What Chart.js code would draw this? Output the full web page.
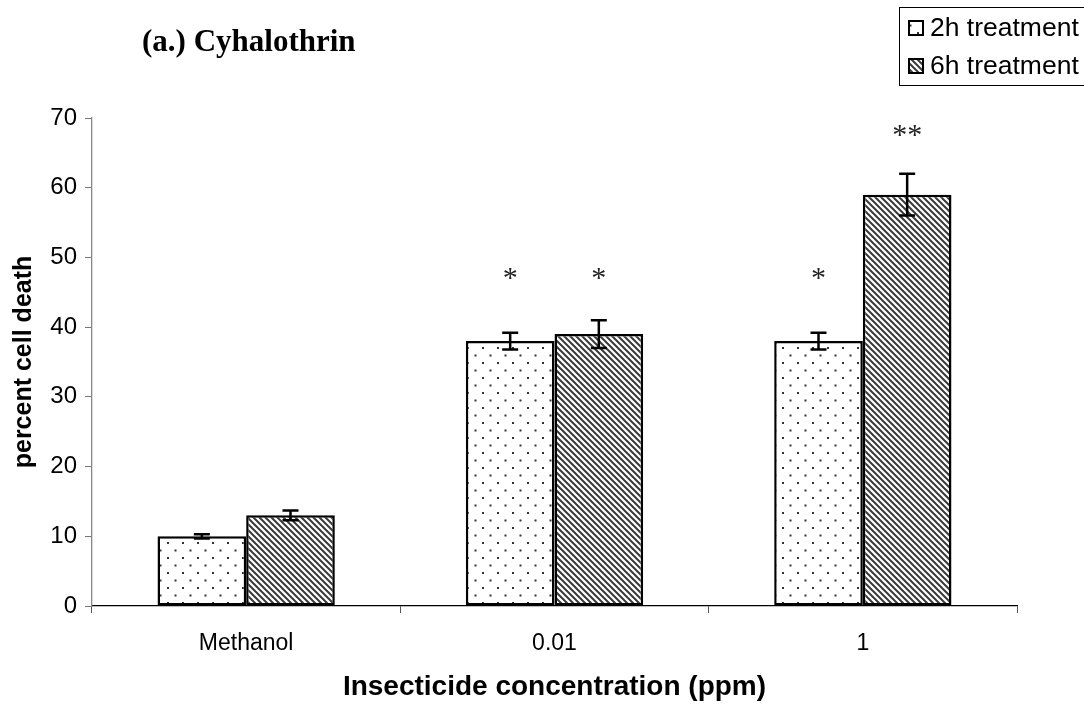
<!DOCTYPE html>
<html>
<head>
<meta charset="utf-8">
<script src="https://cdn.jsdelivr.net/npm/chart.js@4/dist/chart.umd.min.js"></script>
<style>
  html, body { margin: 0; padding: 0; background: #fff; }
  #wrap { position: relative; width: 1084px; height: 706px; }
</style>
</head>
<body>
<div id="wrap"><canvas id="c" width="1084" height="706"></canvas></div>
<script>
const categories = ['Methanol', '0.01', '1'];
const seriesNames = ['2h treatment', '6h treatment'];
const values2h = [10, 38, 38];
const values6h = [13, 39, 59];
const errors2h = [0.3, 1.2, 1.2];
const errors6h = [0.7, 2.0, 3.0];
const marks2h = ['', '*', '*'];
const marks6h = ['', '*', '**'];
const titleText = '(a.) Cyhalothrin';
const yTitle = 'percent cell death';
const xTitle = 'Insecticide concentration (ppm)';

function dotPattern() {
  const c = document.createElement('canvas');
  c.width = 15; c.height = 15;
  const g = c.getContext('2d');
  g.fillStyle = '#fff'; g.fillRect(0, 0, 15, 15);
  g.fillStyle = '#333';
  g.fillRect(2, 2, 2, 2);
  g.fillRect(9.5, 9.5, 2, 2);
  return g.createPattern(c, 'repeat');
}
function hatchPattern() {
  const s = 6;
  const c = document.createElement('canvas');
  c.width = s; c.height = s;
  const g = c.getContext('2d');
  g.fillStyle = '#fff'; g.fillRect(0, 0, s, s);
  g.strokeStyle = '#3a3a3a'; g.lineWidth = 2;
  g.beginPath();
  g.moveTo(-1, -1); g.lineTo(s + 1, s + 1);
  g.moveTo(-1, s - 1); g.lineTo(1, s + 1);
  g.moveTo(s - 1, -1); g.lineTo(s + 1, 1);
  g.stroke();
  return g.createPattern(c, 'repeat');
}
const pat2h = dotPattern();
const pat6h = hatchPattern();

const overlay = {
  id: 'overlay',
  afterDatasetsDraw(chart) {
    const ctx = chart.ctx;
    const y = chart.scales.y;
    const sets = [[values2h, errors2h, marks2h], [values6h, errors6h, marks6h]];
    sets.forEach((s, di) => {
      const meta = chart.getDatasetMeta(di);
      meta.data.forEach((bar, i) => {
        const x = bar.x;
        const top = y.getPixelForValue(s[0][i] + s[1][i]);
        const bot = y.getPixelForValue(s[0][i] - s[1][i]);
        ctx.save();
        ctx.strokeStyle = '#000'; ctx.lineWidth = 2.5;
        ctx.beginPath();
        ctx.moveTo(x, top); ctx.lineTo(x, bot);
        ctx.moveTo(x - 8, top); ctx.lineTo(x + 8, top);
        ctx.moveTo(x - 8, bot); ctx.lineTo(x + 8, bot);
        ctx.stroke();
        if (s[2][i]) {
          ctx.fillStyle = '#222';
          ctx.font = '30px "Liberation Serif", "Times New Roman", serif';
          ctx.textAlign = 'center'; ctx.textBaseline = 'middle';
          const ty = s[2][i] === '**' ? 136 : 279;
          ctx.fillText(s[2][i], x, ty);
        }
        ctx.restore();
      });
    });
  },
  afterDraw(chart) {
    const ctx = chart.ctx;
    ctx.save();
    // title
    ctx.fillStyle = '#000';
    ctx.font = 'bold 31px "Liberation Serif", "Times New Roman", serif';
    ctx.textAlign = 'left'; ctx.textBaseline = 'middle';
    ctx.fillText(titleText, 142, 43);
    // legend
    ctx.strokeStyle = '#000'; ctx.lineWidth = 1;
    ctx.strokeRect(899.5, 7.5, 200, 78);
    const pats = [pat2h, pat6h];
    const ly = [28, 66];
    ctx.font = '26.5px "Liberation Sans", Arial, sans-serif';
    seriesNames.forEach((n, i) => {
      ctx.fillStyle = pats[i];
      ctx.fillRect(909, ly[i] - 7, 14, 14);
      ctx.strokeStyle = '#000'; ctx.lineWidth = 2;
      ctx.strokeRect(909, ly[i] - 7, 14, 14);
      ctx.fillStyle = '#000';
      ctx.fillText(n, 930, ly[i] + 1);
    });
    ctx.restore();
  }
};

new Chart(document.getElementById('c'), {
  type: 'bar',
  data: {
    labels: categories,
    datasets: [
      { label: seriesNames[0], data: values2h, backgroundColor: pat2h, borderColor: '#000', borderWidth: 2.5, borderSkipped: false },
      { label: seriesNames[1], data: values6h, backgroundColor: pat6h, borderColor: '#000', borderWidth: 2.5, borderSkipped: false }
    ]
  },
  options: {
    responsive: false,
    animation: false,
    events: [],
    layout: { padding: { left: 0, right: 67, top: 118, bottom: 0 } },
    plugins: { legend: { display: false }, title: { display: false }, tooltip: { enabled: false } },
    datasets: { bar: { categoryPercentage: 0.575, barPercentage: 1.0 } },
    scales: {
      x: {
        grid: { display: true, drawOnChartArea: false, offset: true, tickLength: 7, color: '#555', lineWidth: 1 },
        border: { color: '#000', width: 1.3 },
        ticks: { color: '#000', font: { family: '"Liberation Sans", Arial, sans-serif', size: 23 }, padding: 17 },
        title: { display: true, text: xTitle, color: '#000', font: { family: '"Liberation Sans", Arial, sans-serif', size: 28, weight: 'bold' }, padding: { top: 10, bottom: 2 } },
        afterFit(s) { s.height = 100; }
      },
      y: {
        min: 0, max: 70,
        ticks: { stepSize: 10, color: '#000', font: { family: '"Liberation Sans", Arial, sans-serif', size: 24 }, padding: 8 },
        grid: { display: true, drawOnChartArea: false, tickLength: 7, color: '#777' },
        border: { color: '#888', width: 1.3 },
        title: { display: true, text: yTitle, color: '#000', font: { family: '"Liberation Sans", Arial, sans-serif', size: 25, weight: 'bold' }, padding: { top: 9, bottom: 8 } },
        afterFit(s) { s.width = 92; }
      }
    }
  },
  plugins: [overlay]
});
</script>
</body>
</html>
